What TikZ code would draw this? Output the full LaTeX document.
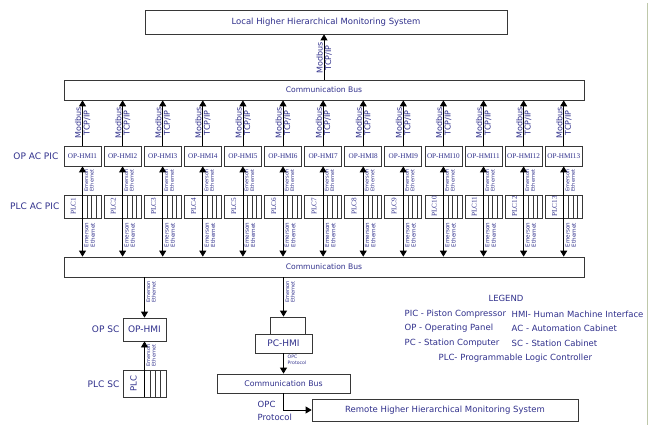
\documentclass[tikz,border=0pt]{standalone}
\usepackage{fontspec}
\setmainfont{DejaVu Sans}
\newfontfamily\serifbox{Liberation Serif}
\usetikzlibrary{arrows.meta}
\definecolor{txt}{RGB}{48,48,140}
\definecolor{edge}{RGB}{55,55,55}
\definecolor{rim}{RGB}{190,200,170}
\begin{document}
\begin{tikzpicture}[x=1pt,y=-1pt,
  box/.style={draw=edge, line width=0.8pt, inner sep=0pt, text=txt},
  lbl/.style={text=txt, inner sep=0.5pt},
  arr/.style={line width=0.8pt, -{Triangle[width=7pt,length=6pt]}},
  ln/.style={line width=0.8pt},
  slot/.style={line width=0.6pt, draw=edge},
  fbig/.style={font=\fontsize{8.5}{10}\selectfont},
  frow/.style={font=\fontsize{9}{10}\selectfont},
  fbus/.style={font=\fontsize{7.6}{9}\selectfont},
  fmod/.style={font=\fontsize{8}{9}\selectfont},
  fem/.style={font=\fontsize{5}{5.6}\selectfont, align=center},
  femb/.style={font=\fontsize{5.6}{6.3}\selectfont, align=center},
  fser/.style={font=\serifbox\fontsize{7.2}{8}\selectfont},
]
\fill[white] (0,0) rectangle (656,425);
\useasboundingbox (0,0) rectangle (656,425);
\draw[rim, line width=1pt] (647,3) -- (647,425);

% top system and bus
\node[box, fbig, minimum width=362, minimum height=24] (top) at (326,22) {Local Higher Hierarchical Monitoring System};
\node[box, fbus, minimum width=520, minimum height=20] (bus1) at (324,90) {Communication Bus};
\draw[arr] (bus1.north) -- (bus1.north |- top.south);
\node[lbl, fmod, rotate=90, anchor=south] (tmb) at (323.5,58) {Modbus};
\node[lbl, fmod, rotate=90, anchor=north] (ttc) at (324.5,58) {TCP/IP};

% lower bus
\node[box, fbus, minimum width=520, minimum height=20] (bus2) at (324,267) {Communication Bus};

% row labels
\node[lbl, frow, anchor=east] (rop) at (59,156) {OP AC PIC};
\node[lbl, frow, anchor=east] (rplc) at (60,206) {PLC AC PIC};

\foreach \i in {1,...,13} {
  \pgfmathsetmacro\cx{82.5+40.1*(\i-1)}
  \node[box, fser, minimum width=37, minimum height=20] (h\i) at (\cx,156) {OP-HMI\i};
  \node[box, minimum width=37, minimum height=23] (p\i) at (\cx,206.5) {};
  \node[lbl, fser, rotate=90] (pl\i) at (\cx-9.2,206.5) {PLC\i};
  \foreach \k in {1,2,3} {
    \draw[slot] (\cx+\k*4.6,195) -- (\cx+\k*4.6,218);
  }
  \draw[ln] (p\i.north) -- (p\i.south);
  \draw[arr] (h\i.north) -- (h\i.north |- bus1.south);
  \draw[arr] (p\i.north) -- (h\i.south);
  \draw[arr] (p\i.south) -- (p\i.south |- bus2.north);
  \node[lbl, fmod, rotate=90, anchor=south] (mb\i) at (\cx-0.5,123) {Modbus};
  \node[lbl, fmod, rotate=90, anchor=north] (tc\i) at (\cx+0.5,123) {TCP/IP};
  \node[lbl, fem, rotate=90, anchor=north] (eu\i) at (\cx+1.2,180.5) {Emerson\\Ethernet};
  \node[lbl, femb, rotate=90, anchor=north] (el\i) at (\cx+1.2,235) {Emerson\\Ethernet};
}

% station cabinet branch
\node[box, font=\fontsize{9}{10}\selectfont, minimum width=43, minimum height=23] (opsc) at (144.5,329.5) {OP-HMI};
\node[box, minimum width=43, minimum height=27] (plcsc) at (144.5,383.5) {};
\node[lbl, font=\fontsize{8.5}{10}\selectfont, rotate=90] (plct) at (133.5,383.5) {PLC};
\foreach \k in {1,2,3} {
  \draw[slot] (144.5+\k*5.4,370) -- (144.5+\k*5.4,397);
}
\draw[ln] (plcsc.north) -- (plcsc.south);
\draw[arr] (opsc.north |- bus2.south) -- (opsc.north);
\draw[arr] (plcsc.north) -- (opsc.south);
\node[lbl, fem, rotate=90, anchor=north] (esc1) at (145.7,292) {Emerson\\Ethernet};
\node[lbl, fem, rotate=90, anchor=north] (esc2) at (145.7,355.5) {Emerson\\Ethernet};
\node[lbl, frow, anchor=east] (lopsc) at (120,329) {OP SC};
\node[lbl, frow, anchor=east] (lplcsc) at (120,384) {PLC SC};

% station computer branch
\node[box, minimum width=35, minimum height=17] (mon) at (287.5,325.5) {};
\node[box, font=\fontsize{9}{10}\selectfont, minimum width=57, minimum height=19] (pchmi) at (283.5,343.5) {PC-HMI};
\draw[arr] (bus2.south -| pchmi.north) -- (mon.north -| pchmi.north);
\node[lbl, fem, rotate=90, anchor=north] (epc) at (284.7,292) {Emerson\\Ethernet};
\node[box, font=\fontsize{7.8}{9}\selectfont, minimum width=133, minimum height=19] (bus3) at (283.5,383.5) {Communication Bus};
\draw[arr] (pchmi.south) -- (pchmi.south |- bus3.north);
\node[lbl, font=\fontsize{4.6}{5.4}\selectfont, align=left, anchor=north west] (opcs) at (287,354.5) {OPC\\Protocol};
\node[box, fbig, minimum width=266, minimum height=22] (remote) at (445,410) {Remote Higher Hierarchical Monitoring System};
\draw[arr] (bus3.south) |- (remote.west);
\node[lbl, fbig, anchor=west] (opc1) at (257,404) {OPC};
\node[lbl, fbig, anchor=west] (opc2) at (257,417) {Protocol};

% legend
\node[lbl, fbig] (lg) at (506,298) {LEGEND};
\node[lbl, fbig, anchor=west] (lg1) at (404,314) {PIC - Piston Compressor};
\node[lbl, fbig, anchor=west] (lg2) at (404,328.5) {OP - Operating Panel};
\node[lbl, fbig, anchor=west] (lg3) at (404,343) {PC - Station Computer};
\node[lbl, fbig, anchor=west] (lg4) at (511,314) {HMI- Human Machine Interface};
\node[lbl, fbig, anchor=west] (lg5) at (511,328.5) {AC - Automation Cabinet};
\node[lbl, fbig, anchor=west] (lg6) at (511,343) {SC - Station Cabinet};
\node[lbl, fbig, anchor=west] (lg7) at (438,358) {PLC- Programmable Logic Controller};
\end{tikzpicture}
\end{document}
